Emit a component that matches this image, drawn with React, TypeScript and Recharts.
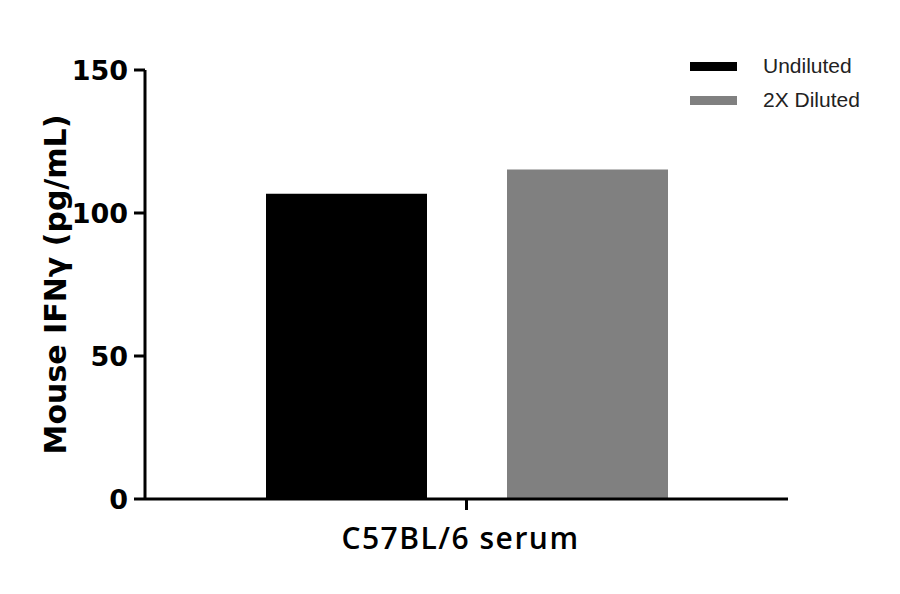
import React from 'react';
import { BarChart, Bar, XAxis, YAxis, Legend } from 'recharts';

const categories = ['C57BL/6 serum'];
const undiluted = [106.7];
const diluted = [115.2];
const yTicks = [0, 50, 100, 150];

const seriesNames = ['Undiluted', '2X Diluted'];
const seriesColors = ['#000000', '#808080'];

const data = categories.map((c, i) => ({
  name: c,
  undiluted: undiluted[i],
  diluted: diluted[i],
}));

const tickFont = '"DejaVu Sans", sans-serif';

function LegendBox() {
  return (
    <div style={{ fontFamily: '"Liberation Sans", Arial, sans-serif', fontSize: 21, color: '#222' }}>
      {seriesNames.map((n, i) => (
        <div key={n} style={{ display: 'flex', alignItems: 'center', height: 34 }}>
          <span style={{ display: 'inline-block', width: 47, height: 9, background: seriesColors[i], marginRight: 26 }} />
          <span>{n}</span>
        </div>
      ))}
    </div>
  );
}

export default function App() {
  return (
    <div style={{ position: 'absolute', left: 0, top: 0, width: 900, height: 594, background: '#fff' }}>
      <BarChart
        width={900}
        height={594}
        data={data}
        margin={{ top: 70, right: 112, left: 0, bottom: 35 }}
        barSize={161}
        barGap={80}
      >
        <XAxis
          dataKey="name"
          height={60}
          axisLine={{ stroke: '#000', strokeWidth: 3 }}
          tickLine={{ stroke: '#000', strokeWidth: 3 }}
          tickSize={11}
          tick={() => <g />}
          label={{
            content: (p: any) => {
              const vb = p.viewBox;
              return (
                <text
                  x={vb.x + vb.width / 2 - 6}
                  y={549}
                  textAnchor="middle"
                  fontFamily={'"Open Sans", sans-serif'}
                  fontWeight={600}
                  fontSize={30}
                  letterSpacing={1.5}
                  fill="#000"
                >
                  {categories[0]}
                </text>
              );
            },
          }}
        />
        <YAxis
          width={145}
          domain={[0, 150]}
          ticks={yTicks}
          interval={0}
          axisLine={{ stroke: '#000', strokeWidth: 3 }}
          tickLine={{ stroke: '#000', strokeWidth: 3 }}
          tickSize={11}
          tickMargin={6}
          tick={{ fontFamily: tickFont, fontWeight: 700, fontSize: 27, fill: '#000' }}
          label={{
            content: (p: any) => {
              const vb = p.viewBox;
              const cy = vb.y + vb.height / 2;
              return (
                <text
                  x={55}
                  y={cy}
                  transform={`rotate(-90 55 ${cy})`}
                  textAnchor="middle"
                  dominantBaseline="central"
                  fontFamily={tickFont}
                  fontWeight={700}
                  fontSize={30}
                  fill="#000"
                >
                  Mouse IFNγ (pg/mL)
                </text>
              );
            },
          }}
        />
        <Legend
          layout="horizontal"
          verticalAlign="middle"
          align="center"
          content={() => <LegendBox />}
          wrapperStyle={{ position: 'absolute', top: 49, left: 690, width: 210 }}
        />
        <Bar dataKey="undiluted" name={seriesNames[0]} fill={seriesColors[0]} isAnimationActive={false} />
        <Bar dataKey="diluted" name={seriesNames[1]} fill={seriesColors[1]} isAnimationActive={false} />
      </BarChart>
    </div>
  );
}
